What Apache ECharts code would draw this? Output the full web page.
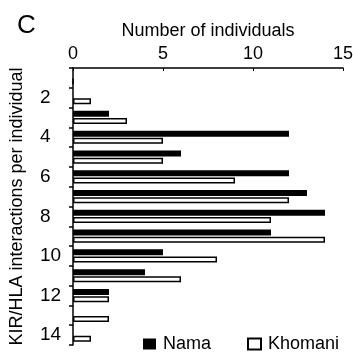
<!DOCTYPE html>
<html>
<head>
<meta charset="utf-8">
<script src="https://cdn.jsdelivr.net/npm/echarts@6/dist/echarts.min.js"></script>
<style>html,body{margin:0;padding:0;background:#fff}#c{width:353px;height:352px}</style>
</head>
<body>
<div id="c"></div>
<script>
const categories = [1,2,3,4,5,6,7,8,9,10,11,12,13,14];
const nama =    [0,0,2,12,6,12,13,14,11,5,4,2,0,0];
const khomani = [0,1,3,5,5,9,12,11,14,8,6,2,2,1];
const xTicks = [0,5,10,15];

const FONT = "'Liberation Sans', Arial, sans-serif";
const chart = echarts.init(document.getElementById('c'));
chart.setOption({
  animation: false,
  backgroundColor: '#fff',
  title: {
    text: 'C', left: 12, top: 8,
    textStyle: {fontFamily: FONT, fontSize: 26, fontWeight: 'normal', color: '#000'}
  },
  legend: {
    left: 138, top: 330,
    itemWidth: 13, itemHeight: 11, itemGap: 36,
    textStyle: {fontFamily: FONT, fontSize: 18, color: '#000', padding: [0,0,0,2]},
    data: [
      {name: 'Nama', icon: 'rect', itemStyle: {color: '#000', borderWidth: 0}},
      {name: 'Khomani', icon: 'rect', itemStyle: {color: '#fff', borderColor: '#000', borderWidth: 2}}
    ]
  },
  grid: {left: 73, right: 10, top: 68, bottom: 7, containLabel: false, outerBoundsMode: 'none'},
  xAxis: {
    type: 'value', position: 'top',
    min: xTicks[0], max: xTicks[xTicks.length-1], interval: 5,
    name: 'Number of individuals', nameLocation: 'middle', nameGap: 26,
    nameTextStyle: {fontFamily: FONT, fontSize: 18, color: '#000'},
    axisLine: {show: true, lineStyle: {color: '#000', width: 1.5}},
    axisTick: {show: true, inside: true, length: 3, lineStyle: {color: '#000', width: 1}},
    axisLabel: {fontFamily: FONT, fontSize: 18, color: '#000', margin: 5},
    splitLine: {show: false}
  },
  yAxis: {
    type: 'category', inverse: true, data: categories,
    name: 'KIR/HLA interactions per individual', nameLocation: 'middle', nameGap: 47, nameRotate: 90,
    nameTextStyle: {fontFamily: FONT, fontSize: 18, color: '#000'},
    axisLine: {show: true, lineStyle: {color: '#000', width: 1.5}},
    axisTick: {show: true, interval: 0, length: 4, alignWithLabel: false, lineStyle: {color: '#000', width: 1.5}},
    axisLabel: {
      fontFamily: FONT, fontSize: 19, color: '#000', align: 'left', margin: 33,
      interval: function (index) { return index % 2 === 1; }
    },
    splitLine: {show: false}
  },
  series: [
    {name: 'Nama', type: 'bar', data: nama, barWidth: 6, barGap: '20%',
     itemStyle: {color: '#000'}},
    {name: 'Khomani', type: 'bar', data: khomani, barWidth: 6,
     itemStyle: {color: '#fff', borderColor: '#000', borderWidth: 1.5}}
  ]
});
</script>
</body>
</html>
